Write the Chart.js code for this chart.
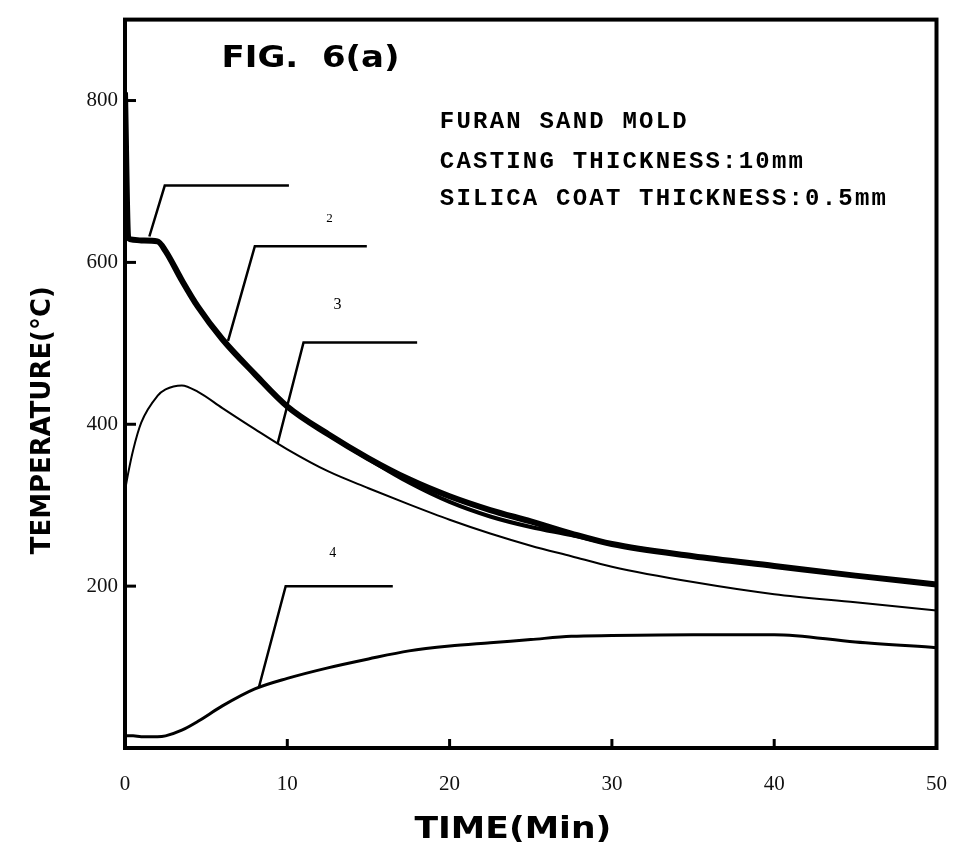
<!DOCTYPE html>
<html>
<head>
<meta charset="utf-8">
<script src="https://cdn.jsdelivr.net/npm/chart.js@4"></script>
<style>
  html, body { margin: 0; padding: 0; background: #fff; }
</style>
</head>
<body>
<canvas id="fig_chart" width="971" height="861"></canvas>
<script>
// time (min) along the x-axis, shared by the four curves
var time = [0, 0.2, 0.5, 1, 2, 2.5, 3.5, 4.5, 6, 8, 10, 12.5, 15, 17.5, 20, 22.5, 25, 27.5, 30, 35, 40, 45, 50];

// temperatures (deg C)
var curve1 = [810, 630, 628, 627, 626, 614, 578, 545, 505, 462, 422, 388, 358, 332, 311, 294, 280, 265, 252, 237, 225, 213, 202];
var curve2 = [null, 630, 628, 627, 626, 614, 578, 545, 505, 462, 422, 388, 357, 328, 304, 286, 273, 263, 252, 237, 225, 213, 202];
var curve3 = [318, 340, 368, 402, 435, 443, 448, 440, 420, 394, 369, 342, 321, 301, 282, 265, 250, 237, 224, 205, 190, 180, 170];
var curve4 = [15, 15, 15, 14, 14, 15, 22, 33, 52, 73, 86, 99, 110, 120, 126, 130, 134, 138, 139, 140, 140, 131, 124];

// leader lines to the curve numbers (x in min, y in deg C)
var leader1 = { x: [1.5, 2.45, 10.1], y: [632, 695, 695] };
var leader2 = { x: [6.35, 8.0, 14.9], y: [503, 620, 620] };
var leader3 = { x: [9.4, 11.0, 18.0], y: [376, 501, 501] };
var leader4 = { x: [8.25, 9.9, 16.5], y: [75, 200, 200] };

// axis ticks
var xTicks = [0, 10, 20, 30, 40, 50];
var yTicks = [200, 400, 600, 800];

function pts(xs, ys) {
    return xs.map(function (x, i) { return { x: x, y: ys[i] }; });
}

function curve(values, width) {
    return {
        data: pts(time, values),
        borderColor: "#000",
        borderWidth: width,
        fill: false,
        cubicInterpolationMode: "monotone",
        pointRadius: 0
    };
}

function leader(l) {
    return {
        data: pts(l.x, l.y),
        borderColor: "#000",
        borderWidth: 2.5,
        fill: false,
        tension: 0,
        pointRadius: 0
    };
}

// text drawn in data coordinates
var notes = [
    { text: "FURAN SAND MOLD", x: 19.4, y: 774 },
    { text: "CASTING THICKNESS:10mm", x: 19.4, y: 724 },
    { text: "SILICA COAT THICKNESS:0.5mm", x: 19.4, y: 679 }
];
var curveLabels = [
    { text: "2", x: 12.6, y: 654, size: 13 },
    { text: "3", x: 13.1, y: 548, size: 16 },
    { text: "4", x: 12.8, y: 241, size: 14 }
];

function squeezed(ctx, text, font, cx, cy, width, angle) {
    ctx.save();
    ctx.font = font;
    var w = ctx.measureText(text).width;
    ctx.translate(cx, cy);
    ctx.rotate(angle || 0);
    ctx.scale(width / w, 1);
    ctx.textAlign = "center";
    ctx.textBaseline = "middle";
    ctx.fillText(text, 0, 0);
    ctx.restore();
}

var figurePlugin = {
    id: "figure",
    afterDatasetsDraw: function (chart) {
        var ctx = chart.ctx;
        var a = chart.chartArea;
        var xs = chart.scales.x, ys = chart.scales.y;
        ctx.save();
        ctx.fillStyle = "#000";
        ctx.strokeStyle = "#000";

        // frame
        ctx.lineWidth = 4;
        ctx.strokeRect(a.left, a.top, a.right - a.left, a.bottom - a.top);

        // inward tick marks
        ctx.lineWidth = 3;
        yTicks.forEach(function (v) {
            var py = ys.getPixelForValue(v);
            ctx.beginPath(); ctx.moveTo(a.left, py); ctx.lineTo(a.left + 11, py); ctx.stroke();
        });
        [10, 20, 30, 40].forEach(function (v) {
            var px = xs.getPixelForValue(v);
            ctx.beginPath(); ctx.moveTo(px, a.bottom); ctx.lineTo(px, a.bottom - 9); ctx.stroke();
        });

        // title
        squeezed(ctx, "FIG.  6(a)", "bold 30px 'DejaVu Sans'",
            (xs.getPixelForValue(5.97) + xs.getPixelForValue(16.9)) / 2, ys.getPixelForValue(851), 178);

        // notes
        ctx.font = "bold 24px 'Liberation Mono'";
        ctx.letterSpacing = "2.2px";
        ctx.textAlign = "left";
        ctx.textBaseline = "middle";
        notes.forEach(function (n) {
            ctx.fillText(n.text, xs.getPixelForValue(n.x), ys.getPixelForValue(n.y));
        });
        ctx.letterSpacing = "0px";

        // curve numbers
        ctx.textAlign = "center";
        curveLabels.forEach(function (n) {
            ctx.font = n.size + "px 'Liberation Serif'";
            ctx.fillText(n.text, xs.getPixelForValue(n.x), ys.getPixelForValue(n.y));
        });

        // axis titles
        squeezed(ctx, "TEMPERATURE(\u00B0C)", "bold 27px 'DejaVu Sans'",
            a.left - 82, ys.getPixelForValue(405), 268, -Math.PI / 2);
        squeezed(ctx, "TIME(Min)", "bold 31px 'DejaVu Sans'",
            xs.getPixelForValue(23.9), a.bottom + 82, 197);
        ctx.restore();
    }
};

var ctx = document.getElementById("fig_chart");
var myChart = new Chart(ctx, {
    type: "line",
    data: {
        datasets: [
            curve(curve1, 6),
            curve(curve2, 4),
            curve(curve3, 2),
            curve(curve4, 3),
            leader(leader1),
            leader(leader2),
            leader(leader3),
            leader(leader4)
        ]
    },
    options: {
        responsive: false,
        animation: false,
        layout: { padding: { top: 15, right: 34, left: 0, bottom: 0 } },
        plugins: {
            legend: { display: false },
            tooltip: { enabled: false }
        },
        scales: {
            x: {
                type: "linear",
                min: 0,
                max: 50,
                border: { display: false },
                grid: { display: false, drawTicks: false },
                afterBuildTicks: function (s) { s.ticks = xTicks.map(function (v) { return { value: v }; }); },
                afterFit: function (s) { s.height = 113; },
                ticks: {
                    padding: 24,
                    color: "#111",
                    font: { family: "Liberation Serif", size: 21 }
                }
            },
            y: {
                min: 0,
                max: 900,
                border: { display: false },
                grid: { display: false, drawTicks: false },
                afterBuildTicks: function (s) { s.ticks = yTicks.map(function (v) { return { value: v }; }); },
                afterFit: function (s) { s.width = 125; },
                ticks: {
                    padding: 7,
                    color: "#111",
                    font: { family: "Liberation Serif", size: 21 }
                }
            }
        }
    },
    plugins: [figurePlugin]
});
</script>
</body>
</html>
